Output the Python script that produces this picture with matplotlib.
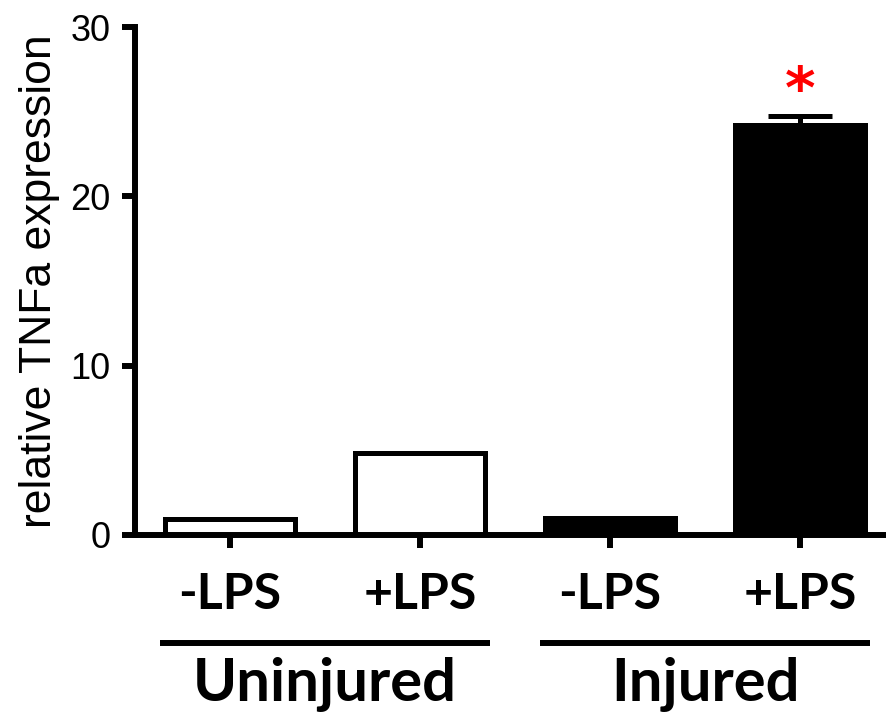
import matplotlib
matplotlib.use("Agg")
import matplotlib.pyplot as plt
from matplotlib.lines import Line2D
import matplotlib.transforms as mtransforms

# Data
tick_labels = ["-LPS", "+LPS", "-LPS", "+LPS"]
values = [0.95, 4.87, 1.03, 24.2]
errors_up = [0.0, 0.0, 0.0, 0.55]
face_colors = ["white", "white", "black", "black"]
groups = ["Uninjured", "Injured"]
group_members = [[0, 1], [2, 3]]
yticks = [0, 10, 20, 30]
ylabel = "relative TNFa expression"
sig_index = 3

W, H = 887, 713
fig = plt.figure(figsize=(W / 100, H / 100), dpi=100)
left_px, right_px, bottom_px, top_px = 135, 887, 535, 27
ax = fig.add_axes([left_px / W, (H - bottom_px) / H,
                   (right_px - left_px) / W, (bottom_px - top_px) / H])

x = list(range(len(values)))
ax.bar(x, values, width=0.68, color=face_colors, edgecolor="black",
       linewidth=3.6, zorder=2)
# upper error bar on the significant bar
for i, e in enumerate(errors_up):
    if e > 0:
        ax.errorbar([i], [values[i]], yerr=[[0], [e]], fmt="none",
                    ecolor="black", elinewidth=3.6, capsize=23,
                    capthick=3.6, zorder=3)

ax.set_xlim(-0.5, -0.5 + (right_px - left_px) / 190.0)
ax.set_ylim(0, 30)
ax.set_yticks(yticks)
ax.set_xticks(x)
ax.set_xticklabels(tick_labels, fontfamily="Lato", fontweight="bold",
                   fontsize=36)
for lab in ax.get_yticklabels():
    lab.set_fontfamily("Liberation Sans")
    lab.set_fontsize(26)

for s in ["top", "right"]:
    ax.spines[s].set_visible(False)
for s in ["left", "bottom"]:
    ax.spines[s].set_linewidth(4.3)
ax.tick_params(axis="both", direction="out", length=9.4, width=4.3)
ax.tick_params(axis="y", pad=8)
ax.tick_params(axis="x", pad=17)

ax.set_ylabel(ylabel, fontfamily="Liberation Sans", fontsize=32)
ax.yaxis.set_label_coords(-0.1, 0.5)

# significance asterisk
top_sig = values[sig_index] + errors_up[sig_index]
ax.text(sig_index, top_sig + 1.45, "*", color="red", fontsize=42,
        fontweight="bold", ha="center", va="center",
        fontfamily="DejaVu Sans")

# group lines and labels
trans = mtransforms.blended_transform_factory(ax.transData, ax.transAxes)
line_y = (bottom_px - 643) / (bottom_px - top_px)
text_y = (bottom_px - 701) / (bottom_px - top_px)
for g, members in zip(groups, group_members):
    x0 = min(members) - 0.37
    x1 = max(members) + 0.37
    ax.add_line(Line2D([x0, x1], [line_y, line_y], transform=trans,
                       color="black", linewidth=4.3, clip_on=False,
                       solid_capstyle="butt"))
    ax.text((min(members) + max(members)) / 2, text_y, g, transform=trans,
            ha="center", va="baseline", fontfamily="Lato",
            fontweight="bold", fontsize=43, clip_on=False)

fig.savefig("out.png", dpi=100)
